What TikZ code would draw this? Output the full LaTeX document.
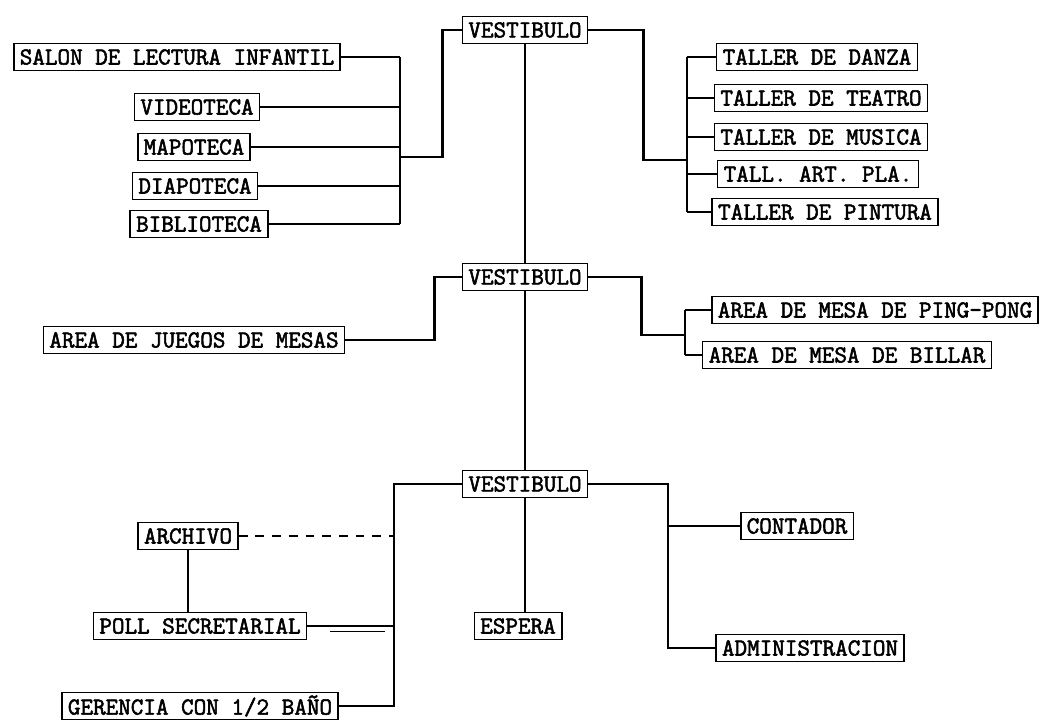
\documentclass[tikz,border=0pt]{standalone}
\usepackage{fontspec}
\newfontfamily\typefont[FakeBold=2.2]{Latin Modern Mono}
\newcommand\roomfont{\typefont\bfseries\fontsize{13.9}{15}\selectfont}
\usetikzlibrary{calc}

\begin{document}
\begin{tikzpicture}[x=0.02cm,y=-0.02cm,
  room/.style={draw,line width=0.9pt,inner xsep=3.4pt,inner ysep=0pt,
               minimum height=0.54cm,font=\roomfont},
  link/.style={line width=1.6pt}]
  \useasboundingbox (0,0) rectangle (1045,720);
  % upper level
  \node[room] (v1) at (525,30) {VESTIBULO};
  \node[room] (salon)  at (177,57)  {SALON DE LECTURA INFANTIL};
  \node[room] (video)  at (197,107) {VIDEOTECA};
  \node[room] (mapo)   at (194,147) {MAPOTECA};
  \node[room] (diapo)  at (195,186) {DIAPOTECA};
  \node[room] (biblio) at (199,224) {BIBLIOTECA};
  \node[room] (danza)   at (817,57)  {TALLER DE DANZA};
  \node[room] (teatro)  at (821,98)  {TALLER DE TEATRO};
  \node[room] (musica)  at (821,137) {TALLER DE MUSICA};
  \node[room] (artpla)  at (818,174) {TALL. ART. PLA.};
  \node[room] (pintura) at (825,212) {TALLER DE PINTURA};
  \coordinate (ltop) at (400,57);
  \coordinate (lbot) at (400,224);
  \coordinate (ljoin) at (400,157);
  \coordinate (rtop) at (687,57);
  \coordinate (rbot) at (687,212);
  \coordinate (rjoin) at (687,160);
  \draw[link] (ltop) -- (lbot);
  \draw[link] (v1.west) -- ++(-19,0) |- (ljoin);
  \foreach \n in {salon,video,mapo,diapo,biblio}
    \draw[link] (\n.east) -- (\n.east -| ltop);
  \draw[link] (rtop) -- (rbot);
  \draw[link] (v1.east) -- ++(55,0) |- (rjoin);
  \foreach \n in {danza,teatro,musica,artpla,pintura}
    \draw[link] (\n.west -| rtop) -- (\n.west);
  % middle level
  \node[room] (v2) at (525,277) {VESTIBULO};
  \node[room] (juegos)   at (194,340) {AREA DE JUEGOS DE MESAS};
  \node[room] (pingpong) at (875,310) {AREA DE MESA DE PING-PONG};
  \node[room] (billar)   at (847,355) {AREA DE MESA DE BILLAR};
  \coordinate (mjoin) at (685,335);
  \draw[link] (v1.south) -- (v2.north);
  \draw[link] (v2.west) -- ++(-27,0) |- (juegos.east);
  \draw[link] (pingpong.west -| mjoin) -- (billar.west -| mjoin);
  \draw[link] (v2.east) -- ++(53,0) |- (mjoin);
  \foreach \n in {pingpong,billar}
    \draw[link] (\n.west -| mjoin) -- (\n.west);
  % lower level
  \node[room] (v3) at (525,484) {VESTIBULO};
  \node[room] (archivo)  at (188,536) {ARCHIVO};
  \node[room] (poll)     at (200,626) {POLL SECRETARIAL};
  \node[room] (gerencia) at (200,706) {GERENCIA CON 1/2 BAÑO};
  \node[room] (espera)   at (518,626) {ESPERA};
  \node[room] (contador) at (797,526) {CONTADOR};
  \node[room] (admin)    at (810,648) {ADMINISTRACION};
  \coordinate (gbus) at (394,706);
  \coordinate (cbus) at (668,648);
  \draw[link] (v2.south) -- (v3.north);
  \draw[link] (v3.west) -| (gbus) -- (gerencia.east);
  \draw[link,line width=1.3pt,dash pattern=on 5pt off 4.5pt] (archivo.east) -- (archivo.east -| gbus);
  \draw[link] (poll.east) -- (poll.east -| gbus);
  \draw[line width=0.5pt] (330,631) -- (385,631);
  \draw[link] (archivo.south) -- (archivo.south |- poll.north);
  \draw[link] (espera.north -| v3.south) -- (v3.south);
  \draw[link] (v3.east) -| (cbus) -- (admin.west);
  \draw[link] (contador.west -| cbus) -- (contador.west);
\end{tikzpicture}
\end{document}
